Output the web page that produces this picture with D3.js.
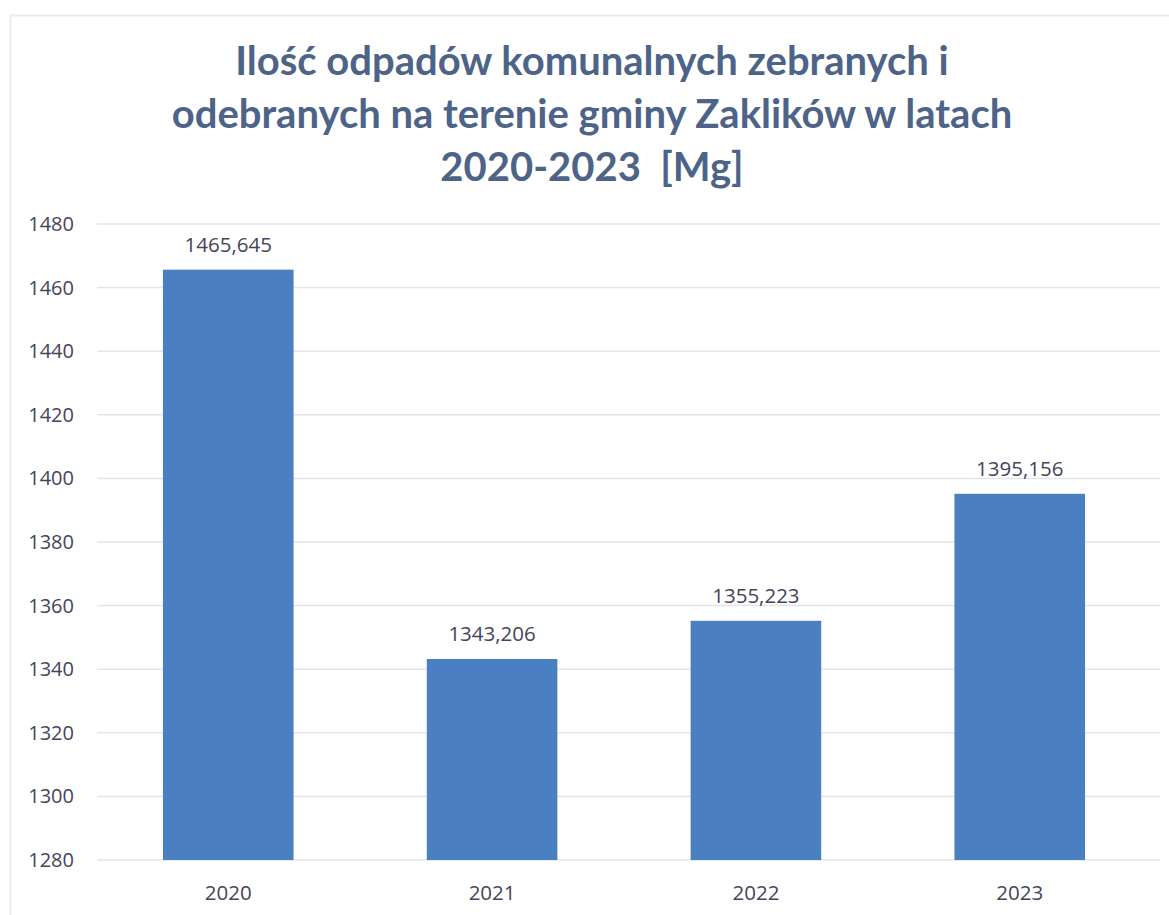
<!DOCTYPE html>
<html>
<head>
<meta charset="utf-8">
<script src="https://cdn.jsdelivr.net/npm/d3@7"></script>
<style>
  body { margin: 0; background: #fff; }
  svg { display: block; }
</style>
</head>
<body>
<div id="chartDiv"></div>
<script>
// data
var years = ['2020', '2021', '2022', '2023'];
var amounts = [1465.645, 1343.206, 1355.223, 1395.156];
var yTicks = [1280, 1300, 1320, 1340, 1360, 1380, 1400, 1420, 1440, 1460, 1480];
var titleLines = ['Ilość odpadów komunalnych zebranych i',
                  'odebranych na terenie gminy Zaklików w latach',
                  '2020-2023  [Mg]'];

function drawChart() {
  var width = 1169;
  var height = 915;
  var svg = d3.select('#chartDiv').append('svg')
    .attr('width', width).attr('height', height);

  // chart frame (faint, as in the scan)
  svg.append('path')
    .attr('d', 'M10.5,' + height + ' V15.5 H' + width)
    .attr('fill', 'none')
    .attr('stroke', '#ececec')
    .attr('stroke-width', 2);

  // title
  svg.append('g').selectAll('text')
    .data(titleLines)
    .enter().append('text')
    .attr('x', 592)
    .attr('y', function(d, i) { return 75 + i * 53; })
    .attr('text-anchor', 'middle')
    .style('white-space', 'pre')
    .attr('font-family', 'Lato, "Open Sans", sans-serif')
    .attr('font-weight', 'bold')
    .attr('font-size', 40)
    .attr('fill', '#4d6488')
    .text(function(d) { return d; });

  var x = d3.scaleBand()
    .domain(years)
    .range([97, 1151])
    .paddingInner(0.505)
    .paddingOuter(0.25);

  var y = d3.scaleLinear()
    .domain([1280, 1480])
    .range([860, 224]);

  // gridlines
  svg.append('g').selectAll('line')
    .data(yTicks)
    .enter().append('line')
    .attr('x1', 97).attr('x2', 1160)
    .attr('y1', function(d) { return y(d); })
    .attr('y2', function(d) { return y(d); })
    .attr('stroke', '#e1e6ec')
    .attr('stroke-width', 1.5);

  // y axis labels
  var yAxis = d3.axisLeft(y).tickValues(yTicks).tickSize(0).tickPadding(0)
    .tickFormat(function(d) { return d; });
  var gy = svg.append('g').attr('transform', 'translate(74,0)').call(yAxis);
  gy.select('.domain').remove();
  gy.selectAll('text')
    .attr('font-family', '"Open Sans", sans-serif')
    .attr('font-size', 20)
    .attr('fill', '#45455a');

  // x axis labels
  var xAxis = d3.axisBottom(x).tickSize(0).tickPadding(0);
  var gx = svg.append('g').attr('transform', 'translate(0,885)').call(xAxis);
  gx.select('.domain').remove();
  gx.selectAll('text')
    .attr('font-family', '"Open Sans", sans-serif')
    .attr('font-size', 20.5)
    .attr('fill', '#45455a');

  // bars
  svg.append('g').selectAll('rect')
    .data(amounts)
    .enter().append('rect')
    .attr('x', function(d, i) { return x(years[i]); })
    .attr('width', x.bandwidth())
    .attr('y', function(d) { return y(d); })
    .attr('height', function(d) { return y(1280) - y(d); })
    .attr('fill', '#4a80c2');

  // value labels
  svg.append('g').selectAll('text')
    .data(amounts)
    .enter().append('text')
    .attr('x', function(d, i) { return x(years[i]) + x.bandwidth() / 2; })
    .attr('y', function(d) { return y(d) - 18; })
    .attr('text-anchor', 'middle')
    .attr('font-family', '"Open Sans", sans-serif')
    .attr('font-size', 20.5)
    .attr('fill', '#45455a')
    .text(function(d) { return d3.format('.3f')(d).replace('.', ','); });
}

drawChart();
</script>
</body>
</html>
